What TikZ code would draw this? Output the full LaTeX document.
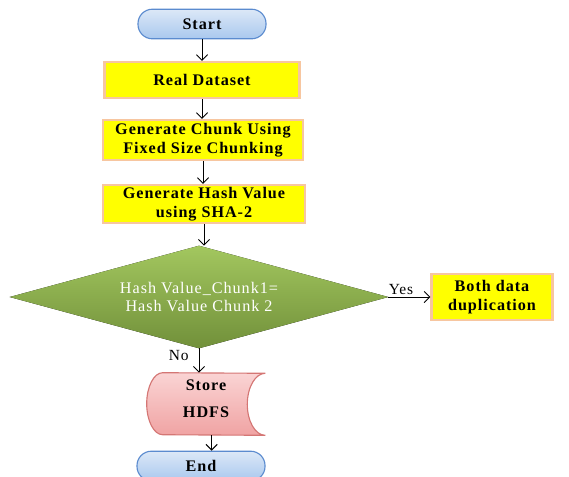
\documentclass[tikz,border=0pt]{standalone}
\usepackage{fontspec}
\setmainfont{Liberation Serif}
\newfontfamily\flowfont[LetterSpace=6]{Liberation Serif}
\usepackage{xcolor}
\definecolor{termTop}{HTML}{DCE8F7}
\definecolor{termBottom}{HTML}{A9C8EE}
\definecolor{termBorder}{HTML}{5B8BCF}
\definecolor{procFill}{HTML}{FFFF00}
\definecolor{procBorder}{HTML}{F7C6A0}
\definecolor{decTop}{HTML}{A3C75F}
\definecolor{decBottom}{HTML}{71903A}
\definecolor{storeTop}{HTML}{FAD4D4}
\definecolor{storeBottom}{HTML}{F0A3A3}
\definecolor{storeBorder}{HTML}{D47674}
\usetikzlibrary{shapes.geometric,arrows.meta,positioning}
\tikzset{
    terminal/.style={
        draw=termBorder,
        top color=termTop,
        bottom color=termBottom,
        rectangle,
        rounded corners=0.36cm,
        minimum width=3.2cm,
        minimum height=0.74cm,
        line width=0.8pt,
        font=\fontsize{11.5}{13}\selectfont\flowfont\bfseries
    },
    process/.style={
        draw=procBorder,
        fill=procFill,
        rectangle,
        align=center,
        line width=1.5pt,
        inner sep=1pt,
        font=\fontsize{11.5}{13.5}\selectfont\flowfont\bfseries
    },
    decision/.style={
        rectangle,
        minimum width=9.45cm,
        minimum height=2.55cm,
        inner sep=0pt,
        align=center,
        text=white,
        font=\fontsize{11.5}{13.5}\selectfont\flowfont
    },
    decshape/.style={
        top color=decTop,
        bottom color=decBottom
    },
    storeshape/.style={
        draw=storeBorder,
        top color=storeTop,
        bottom color=storeBottom,
        line width=0.8pt
    },
    arrow/.style={
        -{Straight Barb[length=4pt,width=8pt]},
        line width=0.7pt,
        color=black
    },
    label/.style={
        font=\fontsize{11}{13}\selectfont\flowfont,
        inner sep=1pt
    }
}

\begin{document}
\begin{tikzpicture}[x=0.025cm,y=-0.025cm]
    \useasboundingbox (0,0) rectangle (569,476);

    % main column
    \node[terminal] (start) at (202,24) {Start};
    \node[process, minimum width=4.875cm, minimum height=0.9cm] (data) at (202,80) {Real Dataset};
    \node[process, minimum width=5cm, minimum height=1cm] (chunk) at (203,140) {Generate Chunk Using\\Fixed Size Chunking};
    \node[process, minimum width=5.05cm, minimum height=0.95cm] (hash) at (204,204) {Generate Hash Value\\using SHA-2};

    % decision (diamond drawn on the node's anchors)
    \node[decision] (check) at (199,297) {};
    \fill[decshape] (check.north) -- (check.east) -- (check.south) -- (check.west) -- cycle;
    \node[decision] at (check) {Hash Value\_Chunk1=\\Hash Value Chunk 2};

    % yes branch
    \node[process, minimum width=3.025cm, minimum height=1.15cm] (dup) at (492,297) {Both data\\duplication};

    % store (stored data shape)
    \node[minimum width=2.95cm, minimum height=1.55cm, inner sep=0pt] (store) at (206,404) {};
    \draw[storeshape] ([xshift=0.4cm]store.north west)
        arc[start angle=90, end angle=270, x radius=0.4cm, y radius=0.775cm]
        -- (store.south east)
        arc[start angle=270, end angle=90, x radius=0.45cm, y radius=0.775cm]
        -- cycle;
    \node[font=\fontsize{11.5}{13}\selectfont\flowfont\bfseries, align=center] at ([yshift=4pt]store) {Store\\[6pt]HDFS};

    \node[terminal] (end) at (201,466) {End};

    % connectors
    \draw[arrow] (start) -- (start |- data.north);
    \draw[arrow] (data) -- (data |- chunk.north);
    \draw[arrow] (chunk) -- (chunk |- hash.north);
    \draw[arrow] (hash) -- (hash |- check.north);
    \draw[arrow] (check.east) -- node[label, above, pos=0.3] {Yes} (dup.west);
    \draw[arrow] (check.south) -- node[label, left=6pt, pos=0.3] {No} (check.south |- store.north);
    \draw[arrow] ([xshift=4pt]store.south) -- ([xshift=4pt]store.south |- end.north);
\end{tikzpicture}
\end{document}
